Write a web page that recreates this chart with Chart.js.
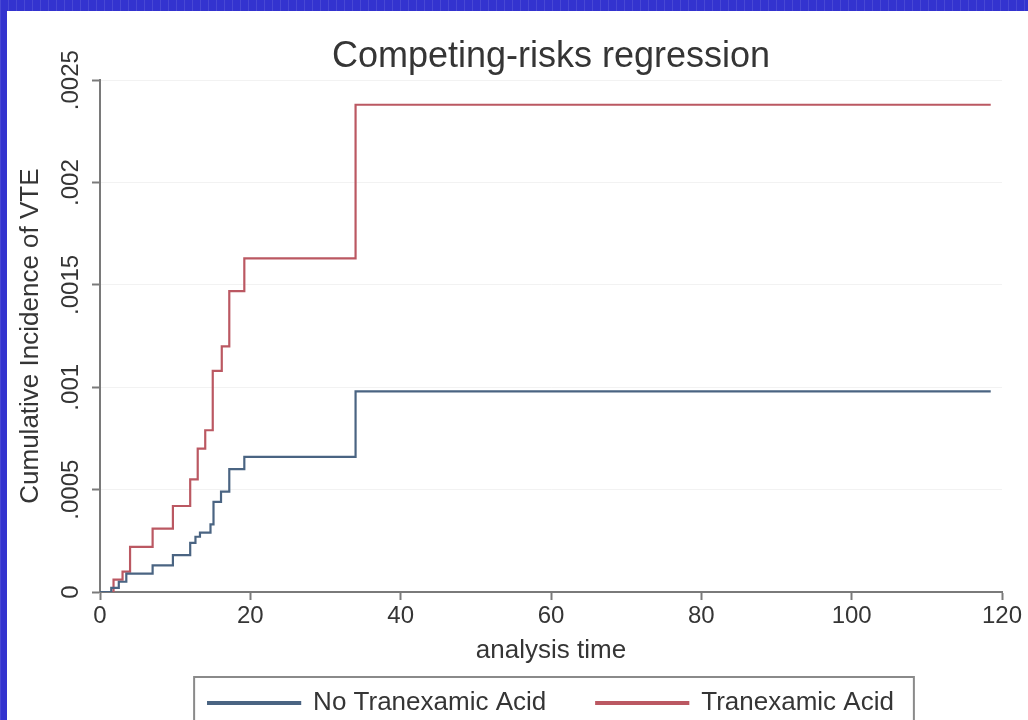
<!DOCTYPE html>
<html>
<head>
<meta charset="utf-8">
<script src="https://cdn.jsdelivr.net/npm/chart.js@4"></script>
<style>
  html, body { margin: 0; padding: 0; width: 1028px; height: 720px; overflow: hidden; }
  body {
    background-color: #3333cf;
    background-image: repeating-linear-gradient(90deg, rgba(255,255,255,0.10) 0 1px, transparent 1px 8px);
  }
  #panel { position: absolute; left: 7px; top: 11px; width: 1021px; height: 715px; background: #fff; }
</style>
</head>
<body>
<div id="panel"><canvas id="cifChart"></canvas></div>
<script>
// data (analysis time, cumulative incidence)
const noTxaTime = [0, 1.5, 2.5, 3.5, 7, 9.7, 12, 12.7, 13.3, 14.7, 15.1, 16.1, 17.2, 19.2, 34, 118.5];
const noTxaCif = [0, 0.00002, 0.00005, 0.00009, 0.00013, 0.00018, 0.00024, 0.00027, 0.00029, 0.00033, 0.00044, 0.00049, 0.0006, 0.00066, 0.00098, 0.00098];
const txaTime = [0, 1.8, 3, 4, 7, 9.7, 12, 13, 14, 15, 16.2, 17.2, 19.2, 34, 118.5];
const txaCif = [0, 0.00006, 0.0001, 0.00022, 0.00031, 0.00042, 0.00055, 0.0007, 0.00079, 0.00108, 0.0012, 0.00147, 0.00163, 0.00238, 0.00238];
const seriesNames = ['No Tranexamic Acid', 'Tranexamic Acid'];
const xTicks = [0, 20, 40, 60, 80, 100, 120];
const yTicks = [0, 0.0005, 0.001, 0.0015, 0.002, 0.0025];

const FONT = '"Liberation Sans", Arial, Helvetica, sans-serif';
const TEXT = '#353535';
const AXIS = '#7a7a7a';

const toPoints = (xs, ys) => xs.map((x, i) => ({ x: x, y: ys[i] }));

// frame around the legend, like Stata draws it
const legendFrame = {
    id: 'legendFrame',
    afterDraw(chart) {
        const boxes = chart.legend.legendHitBoxes;
        if (!boxes || !boxes.length) return;
        const first = boxes[0], last = boxes[boxes.length - 1];
        const ctx = chart.ctx;
        ctx.save();
        ctx.strokeStyle = '#8a8a8a';
        ctx.lineWidth = 2;
        const left = first.left - 14;
        const right = last.left + last.width + 20;
        const top = first.top - 13;
        ctx.strokeRect(left, top, right - left, chart.height + 20 - top);
        ctx.restore();
    }
};

const ctx = document.getElementById('cifChart').getContext('2d');

const chart = new Chart(ctx, {
    type: 'line',
    data: {
        datasets: [{
            label: seriesNames[0],
            data: toPoints(noTxaTime, noTxaCif),
            borderColor: '#4a6482',
            backgroundColor: '#4a6482',
            borderWidth: 2.2,
            stepped: true,
            pointRadius: 0
        }, {
            label: seriesNames[1],
            data: toPoints(txaTime, txaCif),
            borderColor: '#bb5862',
            backgroundColor: '#bb5862',
            borderWidth: 2.2,
            stepped: true,
            pointRadius: 0
        }]
    },
    options: {
        responsive: true,
        maintainAspectRatio: false,
        animation: false,
        layout: { padding: { left: 0, right: 26, top: 0, bottom: 0 } },
        plugins: {
            title: {
                display: true,
                text: 'Competing-risks regression',
                fullSize: false,
                color: TEXT,
                font: { family: FONT, size: 36, weight: 'normal' },
                padding: { top: 24, bottom: 2 }
            },
            legend: {
                position: 'bottom',
                fullSize: false,
                labels: {
                    color: TEXT,
                    font: { family: FONT, size: 26 },
                    boxWidth: 92,
                    boxHeight: 2,
                    padding: 50
                }
            },
            tooltip: { enabled: false }
        },
        scales: {
            x: {
                type: 'linear',
                min: 0,
                max: 120,
                afterBuildTicks: (s) => { s.ticks = xTicks.map(v => ({ value: v })); },
                afterFit: (s) => { s.height = 48; },
                border: { color: AXIS, width: 2 },
                grid: { drawOnChartArea: false, tickLength: 8, tickColor: AXIS, tickWidth: 2 },
                ticks: { color: TEXT, font: { family: FONT, size: 24 }, padding: 2, maxRotation: 0 },
                title: {
                    display: true,
                    text: 'analysis time',
                    color: TEXT,
                    font: { family: FONT, size: 26 },
                    padding: { top: 0, bottom: -26 }
                }
            },
            y: {
                min: 0,
                max: 0.0025,
                afterBuildTicks: (s) => { s.ticks = yTicks.map(v => ({ value: v })); },
                afterFit: (s) => { s.width = 93; },
                border: { color: AXIS, width: 2 },
                grid: { color: 'rgba(0,0,0,0.05)', tickLength: 8, tickColor: AXIS, tickWidth: 2 },
                ticks: {
                    color: TEXT,
                    font: { family: FONT, size: 24 },
                    minRotation: 90,
                    maxRotation: 90,
                    autoSkip: false,
                    crossAlign: 'center',
                    padding: -9,
                    callback: (v) => v === 0 ? '0' : String(Number(v.toFixed(4))).replace(/^0\./, '.')
                },
                title: {
                    display: true,
                    text: 'Cumulative Incidence of VTE',
                    color: TEXT,
                    font: { family: FONT, size: 26 },
                    padding: { top: 8, bottom: 0 }
                }
            }
        }
    },
    plugins: [legendFrame]
});
</script>
</body>
</html>
